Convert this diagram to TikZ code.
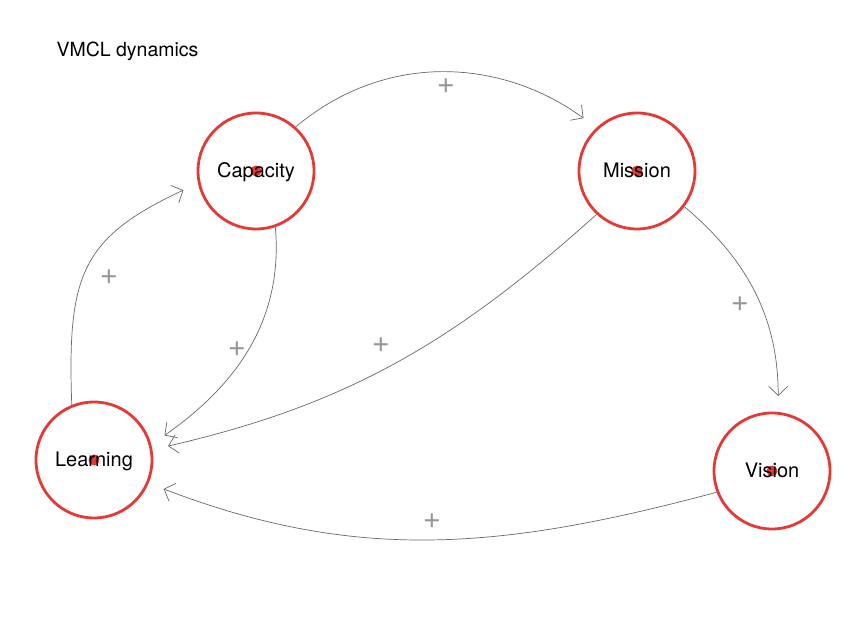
\documentclass[tikz,border=0pt]{standalone}
\usepackage{fontspec}
\setmainfont{TeX Gyre Heros}
\usetikzlibrary{arrows.meta}
\definecolor{vred}{RGB}{229,57,53}
\definecolor{edgegray}{RGB}{105,105,105}
\definecolor{plusgray}{RGB}{150,150,150}
\begin{document}
\begin{tikzpicture}[x=1pt,y=1pt,
  var/.style={circle, draw=vred, line width=2.8pt, minimum size=116pt, inner sep=0pt},
  varlabel/.style={inner sep=0pt, anchor=base, font=\fontsize{20}{22}\selectfont},
  dot/.style={fill=vred},
  edge/.style={draw=edgegray, line width=0.7pt, -{Straight Barb[length=9pt,width=19pt]}, shorten >=16pt},
  pluslab/.style={text=plusgray, font=\fontsize{31}{33}\selectfont, inner sep=0pt}]
\useasboundingbox (0,0) rectangle (859,617);

\node[anchor=base west, font=\fontsize{19.5}{22}\selectfont] (title) at (53,560) {VMCL dynamics};

\node[var] (cap) at (256,446) {};
\node[var] (mis) at (637,446) {};
\node[var] (lea) at (94,157) {};
\node[var] (vis) at (772,146) {};

\fill[dot] (cap.center) circle (5.5);
\fill[dot] (mis.center) circle (5.5);
\fill[dot] (lea.center) circle (5.5);
\fill[dot] (vis.center) circle (5.5);

\node[varlabel] (capl) at ([yshift=-7pt]cap.center) {Capacity};
\node[varlabel] (misl) at ([yshift=-7pt]mis.center) {Mission};
\node[varlabel] (leal) at ([yshift=-7pt]lea.center) {Learning};
\node[varlabel] (visl) at ([yshift=-7pt]vis.center) {Vision};

\draw[edge] (cap.48) to[out=40,in=144] (mis.133);
\draw[edge] (mis.-37) to[out=-40,in=90] (vis.84);
\draw[edge] (mis.227) to[out=222,in=13] (lea.10);
\draw[edge] (cap.-71) to[out=-85,in=35] (lea.15);
\draw[edge] (lea.112) to[out=92,in=205,looseness=1.3] (cap.192);
\draw[edge] (vis.201) to[out=195,in=-21] (lea.-23);

\node[pluslab] (p1) at (446,531) {+};
\node[pluslab] (p2) at (740,313) {+};
\node[pluslab] (p3) at (381,272) {+};
\node[pluslab] (p4) at (237,268) {+};
\node[pluslab] (p5) at (109,340) {+};
\node[pluslab] (p6) at (432,96) {+};
\end{tikzpicture}
\end{document}
